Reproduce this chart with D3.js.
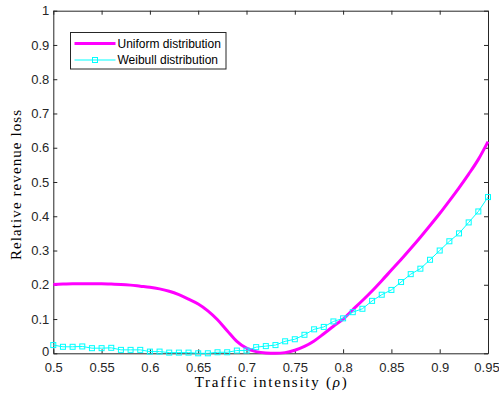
<!DOCTYPE html>
<html>
<head>
<meta charset="utf-8">
<script src="https://cdn.jsdelivr.net/npm/d3@7"></script>
<style>
  body { margin: 0; background: #fff; }
  .tick text { font-family: "Liberation Sans", Arial, sans-serif; font-size: 13px; fill: #262626; }
  .axis path, .axis line { stroke: #262626; }
</style>
</head>
<body>
<div id="chart"></div>
<script>
// data
var rho = d3.range(0.5, 0.9501, 0.01).map(d => +d.toFixed(2));

var uniformLoss = [
  0.201, 0.202, 0.203, 0.203, 0.203, 0.203, 0.202, 0.201, 0.199, 0.196,
  0.193, 0.188, 0.181, 0.171, 0.158, 0.144, 0.124, 0.098, 0.066, 0.035,
  0.015, 0.005, 0.001, 0.000, 0.002, 0.009, 0.020, 0.036, 0.057, 0.079,
  0.100, 0.127, 0.154, 0.182, 0.212, 0.243, 0.274, 0.306, 0.339, 0.373,
  0.408, 0.445, 0.483, 0.523, 0.566, 0.618
];

var weibullLoss = [
  0.024, 0.019, 0.019, 0.020, 0.015, 0.015, 0.016, 0.010, 0.010, 0.010,
  0.005, 0.005, 0.002, 0.002, 0.002, 0.000, 0.000, 0.003, 0.003, 0.008,
  0.008, 0.018, 0.021, 0.024, 0.035, 0.041, 0.054, 0.070, 0.077, 0.093,
  0.102, 0.120, 0.130, 0.153, 0.171, 0.185, 0.208, 0.231, 0.247, 0.273,
  0.300, 0.327, 0.350, 0.382, 0.414, 0.456
];

var xTicks = [0.5, 0.55, 0.6, 0.65, 0.7, 0.75, 0.8, 0.85, 0.9, 0.95];
var yTicks = [0, 0.1, 0.2, 0.3, 0.4, 0.5, 0.6, 0.7, 0.8, 0.9, 1];
var seriesNames = ["Uniform distribution", "Weibull distribution"];

// svg size
var svgWidth = 499;
var svgHeight = 393;

var margin = { top: 10.7, right: 11, bottom: 39.7, left: 53.3 };
var width = svgWidth - margin.left - margin.right;
var height = svgHeight - margin.top - margin.bottom;

var svg = d3.select("#chart")
  .append("svg")
  .attr("width", svgWidth)
  .attr("height", svgHeight);

var chartGroup = svg.append("g")
  .attr("transform", `translate(${margin.left}, ${margin.top})`);

var xScale = d3.scaleLinear().domain([0.5, 0.95]).range([0, width]);
var yScale = d3.scaleLinear().domain([0, 1]).range([height, 0]);

var fmt = d => String(+d.toFixed(2));

// axes, ticks inward like matlab
var xAxis = chartGroup.append("g")
  .attr("class", "axis")
  .attr("transform", `translate(0, ${height})`)
  .call(d3.axisBottom(xScale).tickValues(xTicks).tickFormat(fmt).tickSizeInner(-4).tickSizeOuter(0).tickPadding(9));

// last label sits on the window edge, pull it in a little
xAxis.selectAll(".tick:last-of-type text").attr("dx", -1.5);

var yAxis = chartGroup.append("g")
  .attr("class", "axis")
  .call(d3.axisLeft(yScale).tickValues(yTicks).tickFormat(fmt).tickSizeInner(-4).tickSizeOuter(0).tickPadding(4));

// keep the "0" clear of the first x label
yAxis.selectAll(".tick:first-of-type text").attr("dy", "0.2em");

chartGroup.append("g")
  .attr("class", "axis")
  .call(d3.axisTop(xScale).tickValues(xTicks).tickFormat("").tickSizeInner(-4).tickSizeOuter(0));

chartGroup.append("g")
  .attr("class", "axis")
  .attr("transform", `translate(${width}, 0)`)
  .call(d3.axisRight(yScale).tickValues(yTicks).tickFormat("").tickSizeInner(-4).tickSizeOuter(0));

chartGroup.selectAll(".axis path").attr("stroke-width", 1);

// lines
var uniformLine = d3.line()
  .x((d, i) => xScale(rho[i]))
  .y(d => yScale(d))
  .curve(d3.curveMonotoneX);

chartGroup.append("path")
  .datum(uniformLoss)
  .attr("fill", "none")
  .attr("stroke", "#ff00ff")
  .attr("stroke-width", 3)
  .attr("d", uniformLine);

var weibullLine = d3.line()
  .x((d, i) => xScale(rho[i]))
  .y(d => yScale(d));

chartGroup.append("path")
  .datum(weibullLoss)
  .attr("fill", "none")
  .attr("stroke", "#00ffff")
  .attr("stroke-width", 1)
  .attr("d", weibullLine);

chartGroup.selectAll("rect.marker")
  .data(weibullLoss)
  .enter()
  .append("rect")
  .attr("class", "marker")
  .attr("x", (d, i) => xScale(rho[i]) - 2.5)
  .attr("y", d => yScale(d) - 2.5)
  .attr("width", 5)
  .attr("height", 5)
  .attr("fill", "none")
  .attr("stroke", "#00ffff")
  .attr("stroke-width", 1);

// legend
var legend = svg.append("g").attr("transform", "translate(70.5, 32.5)");

legend.append("rect")
  .attr("width", 155.5)
  .attr("height", 36.5)
  .attr("fill", "#fff")
  .attr("stroke", "#262626")
  .attr("stroke-width", 1);

legend.append("line")
  .attr("x1", 4).attr("x2", 45).attr("y1", 11).attr("y2", 11)
  .attr("stroke", "#ff00ff").attr("stroke-width", 3);

legend.append("line")
  .attr("x1", 4).attr("x2", 45).attr("y1", 27.5).attr("y2", 27.5)
  .attr("stroke", "#00ffff").attr("stroke-width", 1);

legend.append("rect")
  .attr("x", 22).attr("y", 25).attr("width", 5).attr("height", 5)
  .attr("fill", "none").attr("stroke", "#00ffff");

legend.selectAll("text")
  .data(seriesNames)
  .enter()
  .append("text")
  .attr("x", 47)
  .attr("y", (d, i) => 15 + i * 16.5)
  .style("font-family", "Liberation Sans, Arial, sans-serif")
  .style("font-size", "12px")
  .attr("fill", "#000")
  .text(d => d);

// axis labels (latex look: wide serif)
var xLabel = svg.append("text")
  .attr("x", margin.left + width / 2)
  .attr("y", 387)
  .attr("text-anchor", "middle")
  .attr("textLength", 152)
  .attr("lengthAdjust", "spacing")
  .style("font-family", "Liberation Serif, Times New Roman, serif")
  .style("font-size", "15px")
  .attr("fill", "#000");
xLabel.append("tspan").text("Traffic intensity (");
xLabel.append("tspan").style("font-style", "italic").text("ρ");
xLabel.append("tspan").text(")");

svg.append("text")
  .attr("transform", `translate(21, ${margin.top + height / 2 + 3}) rotate(-90)`)
  .attr("text-anchor", "middle")
  .attr("textLength", 150)
  .attr("lengthAdjust", "spacing")
  .style("font-family", "Liberation Serif, Times New Roman, serif")
  .style("font-size", "15px")
  .attr("fill", "#000")
  .text("Relative revenue loss");
</script>
</body>
</html>
